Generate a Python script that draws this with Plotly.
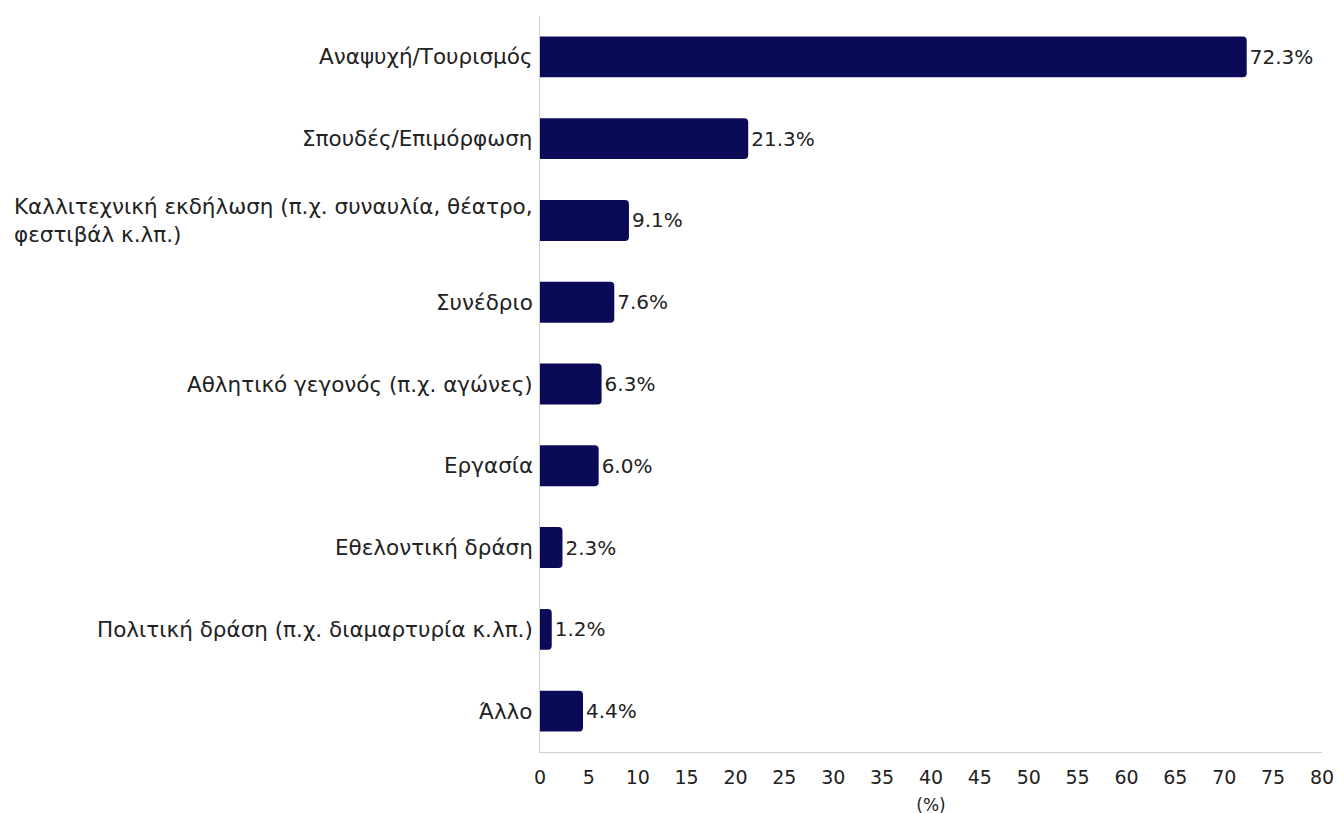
import plotly.graph_objects as go

categories = [
    "Αναψυχή/Τουρισμός",
    "Σπουδές/Επιμόρφωση",
    "Καλλιτεχνική εκδήλωση (π.χ. συναυλία, θέατρο,<br>φεστιβάλ κ.λπ.)",
    "Συνέδριο",
    "Αθλητικό γεγονός (π.χ. αγώνες)",
    "Εργασία",
    "Εθελοντική δράση",
    "Πολιτική δράση (π.χ. διαμαρτυρία κ.λπ.)",
    "Άλλο",
]
values = [72.3, 21.3, 9.1, 7.6, 6.3, 6.0, 2.3, 1.2, 4.4]
x_ticks = list(range(0, 85, 5))

FONT = "DejaVu Sans"
BAR = "#0a0a57"
TXT = "#222222"

fig = go.Figure(go.Bar(
    x=values, y=categories, orientation="h",
    marker=dict(color=BAR, line=dict(width=0)),
    width=0.5,
    texttemplate="%{x:.1f}%", textposition="outside",
    textfont=dict(family=FONT, size=20, color=TXT),
    cliponaxis=False,
))

for c in categories:
    fig.add_annotation(
        x=0, xref="paper", y=c, yref="y", text=c, showarrow=False,
        xanchor="right", yanchor="middle", align="left", xshift=-5,
        font=dict(family=FONT, size=21.5, color=TXT),
    )

fig.update_layout(
    width=1343, height=813,
    margin=dict(l=532, r=29, t=8, b=69),
    paper_bgcolor="white", plot_bgcolor="white",
    showlegend=False,
    barcornerradius=4,
    font=dict(family=FONT, size=18, color=TXT),
)
fig.update_xaxes(
    range=[0, 80], tickvals=x_ticks, showgrid=False, zeroline=False,
    showline=True, linecolor="#d0d0d0", linewidth=1, ticks="", automargin=False,
    tickfont=dict(family=FONT, size=19, color=TXT), ticklabelstandoff=8,
    title=dict(text="(%)", font=dict(family=FONT, size=17, color=TXT), standoff=12),
)
fig.update_yaxes(
    autorange=False, range=[8.5, -0.5], showticklabels=False, showgrid=False,
    zeroline=False, showline=True, linecolor="#d0d0d0", linewidth=1, ticks="",
    automargin=False,
)

fig.write_html("out.html")
